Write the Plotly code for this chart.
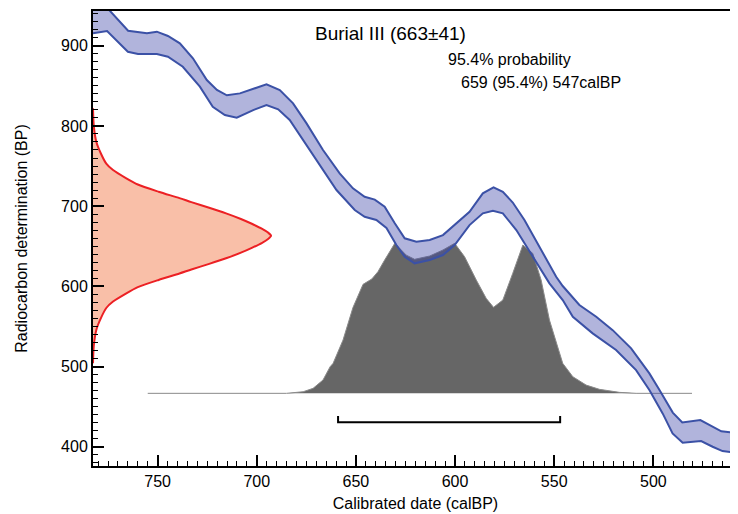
import plotly.graph_objects as go

# ---- Calibration curve band (calBP, BP) ----
upper_x = [782.6, 775.0, 764.9, 755.4, 750.4, 744.8, 738.8, 732.2, 725.2, 720.1, 715.1, 708.5,
           695.1, 688.4, 681.7, 674.9, 666.6, 658.2, 651.5, 645.6, 640.5, 635.5, 630.4, 625.4,
           619.5, 612.8, 606.1, 599.4, 592.7, 586.0, 580.6, 575.9, 570.9, 565.0, 556.6, 549.0,
           545.7, 537.3, 528.8, 520.5, 511.2, 502.0, 496.9, 490.2, 485.4, 476.3, 465.7, 457.3]
upper_y = [948.0, 946.0, 918.7, 915.5, 917.5, 912.1, 903.0, 884.3, 857.2, 844.8, 838.2, 840.6,
           851.9, 844.8, 828.2, 803.2, 770.0, 740.9, 722.2, 711.7, 708.1, 699.3, 678.6, 659.9,
           655.6, 657.7, 663.9, 678.6, 693.0, 716.0, 723.4, 717.9, 704.5, 682.7, 645.3, 612.0,
           600.4, 576.7, 562.1, 545.4, 522.7, 491.5, 470.7, 442.6, 430.4, 433.3, 419.2, 417.0]
lower_x = [782.6, 775.5, 765.0, 759.9, 750.4, 744.8, 737.3, 728.7, 722.2, 716.1, 710.1, 701.8,
           695.1, 689.2, 683.4, 676.6, 668.2, 659.8, 650.6, 645.6, 639.7, 634.6, 629.6, 625.4,
           620.4, 612.8, 606.1, 600.2, 592.7, 586.0, 580.9, 575.9, 569.1, 560.8, 552.4, 545.7,
           540.6, 530.6, 518.8, 508.7, 502.0, 495.3, 490.3, 485.2, 475.9, 470.1, 465.1, 457.3]
lower_y = [915.5, 918.3, 892.5, 889.7, 889.7, 886.3, 873.8, 848.9, 823.9, 813.6, 810.2, 819.8,
           826.1, 820.7, 807.4, 782.4, 751.2, 720.1, 695.2, 686.8, 682.7, 672.7, 651.5, 636.9,
           628.7, 632.8, 639.0, 651.5, 676.4, 691.0, 694.3, 691.0, 670.2, 636.9, 603.7, 582.9,
           562.1, 541.4, 520.6, 495.6, 470.7, 441.6, 416.7, 405.0, 407.1, 400.0, 394.6, 392.0]

# ---- Radiocarbon measurement distribution (BP on y, drawn from left axis) ----
meas_bp = [822, 800, 780, 765, 753, 745, 735, 727, 718, 710, 705, 698, 691, 684, 678, 672, 667,
           663, 659, 654, 648, 642, 635, 628, 621, 616, 608, 599, 591, 581, 573, 561, 546, 526, 504]
meas_cal = [782.6, 782.2, 780.9, 778.5, 775.9, 772.5, 766.0, 760.0, 749.5, 739.0, 733.0, 724.0,
            715.5, 708.0, 702.5, 697.5, 694.3, 692.8, 694.3, 697.5, 702.5, 708.0, 715.5, 724.0,
            733.0, 739.0, 749.5, 760.0, 766.0, 772.5, 775.9, 778.5, 780.9, 782.2, 782.6]

# ---- Calibrated probability distribution (calBP, top in BP units) ----
post_cal = [755.0, 685.0, 676.6, 671.6, 666.6, 663.0, 661.5, 658.0, 656.5, 651.5, 646.4, 642.0,
            638.9, 635.5, 630.4, 624.6, 620.4, 612.8, 606.1, 600.2, 595.2, 589.3, 584.3, 580.6,
            575.9, 570.9, 565.8, 560.8, 556.6, 552.4, 546.5, 545.7, 540.6, 533.9, 527.2, 517.1,
            508.7, 480.5]
post_top = [466.6, 466.6, 468.6, 472.8, 483.2, 499.8, 504.0, 524.7, 533.0, 573.5, 602.5, 609.1,
            618.2, 632.8, 653.6, 638.9, 633.7, 637.8, 645.3, 653.6, 637.0, 607.9, 585.0, 573.8,
            582.9, 616.2, 651.5, 641.1, 607.9, 558.0, 508.1, 504.0, 487.3, 476.9, 471.6, 467.8,
            466.6, 466.6]

# ---- 95.4% range bracket ----
range_cal = [659, 659, 547, 547]
range_bp = [438.3, 430.4, 430.4, 438.3]

x_ticks = [750, 700, 650, 600, 550, 500]
y_ticks = [400, 500, 600, 700, 800, 900]

FONT = "Liberation Sans, Arial, sans-serif"
BAND_LINE = "#3b51a6"

fig = go.Figure()

fig.add_trace(go.Scatter(x=meas_cal, y=meas_bp, mode="lines", fill="toself",
                         fillcolor="#f9bfa8",
                         line=dict(color="#ec2024", width=2, shape="spline", smoothing=0.7),
                         hoverinfo="skip", showlegend=False))

fig.add_trace(go.Scatter(x=post_cal, y=post_top, mode="lines", fill="toself",
                         fillcolor="#666666", line=dict(color="#8a8a8a", width=1),
                         hoverinfo="skip", showlegend=False))

fig.add_trace(go.Scatter(x=upper_x + lower_x[::-1], y=upper_y + lower_y[::-1], mode="lines",
                         fill="toself", fillcolor="rgba(60,67,167,0.40)",
                         line=dict(width=0), hoverinfo="skip", showlegend=False))
fig.add_trace(go.Scatter(x=upper_x, y=upper_y, mode="lines",
                         line=dict(color=BAND_LINE, width=2), hoverinfo="skip", showlegend=False))
fig.add_trace(go.Scatter(x=lower_x, y=lower_y, mode="lines",
                         line=dict(color=BAND_LINE, width=2), hoverinfo="skip", showlegend=False))

fig.add_trace(go.Scatter(x=range_cal, y=range_bp, mode="lines",
                         line=dict(color="black", width=2), hoverinfo="skip", showlegend=False))

axis_common = dict(
    showgrid=False, zeroline=False, showline=True, linecolor="black", linewidth=2,
    ticks="inside", ticklen=11, tickwidth=2, tickcolor="black",
    tickfont=dict(family=FONT, size=16, color="black"),
    automargin=False,
)

fig.update_xaxes(
    range=[782.6, 457.3], tickmode="array", tickvals=x_ticks,
    ticktext=[str(v) for v in x_ticks], mirror=True,
    minor=dict(dtick=5, tick0=0, ticks="inside", ticklen=5, tickwidth=1.3,
               tickcolor="black", showgrid=False),
    title=dict(text="Calibrated date (calBP)", font=dict(family=FONT, size=16, color="black"),
               standoff=9),
    **axis_common,
)
fig.update_yaxes(
    range=[376, 943.3], tickmode="array", tickvals=y_ticks,
    ticktext=[str(v) for v in y_ticks], mirror=False,
    minor=dict(dtick=10, tick0=0, ticks="inside", ticklen=5, tickwidth=1.3,
               tickcolor="black", showgrid=False),
    title=dict(text="Radiocarbon determination (BP)",
               font=dict(family=FONT, size=16, color="black"), standoff=29),
    **axis_common,
)

# The page body has an 8px margin, so the figure is 8px smaller than the window.
fig.update_layout(
    width=730, height=506,
    margin=dict(l=85, r=0, t=3, b=48),
    paper_bgcolor="white", plot_bgcolor="white",
    font=dict(family=FONT, color="black"),
    annotations=[
        dict(text="Burial III (663±41)", xref="paper", yref="paper", x=0.341, y=0.9516,
             xanchor="left", yanchor="middle", showarrow=False,
             font=dict(family=FONT, size=19, color="black")),
        dict(text="95.4% probability", xref="paper", yref="paper", x=0.547, y=0.8945,
             xanchor="left", yanchor="middle", showarrow=False,
             font=dict(family=FONT, size=16, color="black")),
        dict(text="659 (95.4%) 547calBP", xref="paper", yref="paper", x=0.567, y=0.842,
             xanchor="left", yanchor="middle", showarrow=False,
             font=dict(family=FONT, size=16, color="black")),
    ],
)

fig.write_html("out.html")
